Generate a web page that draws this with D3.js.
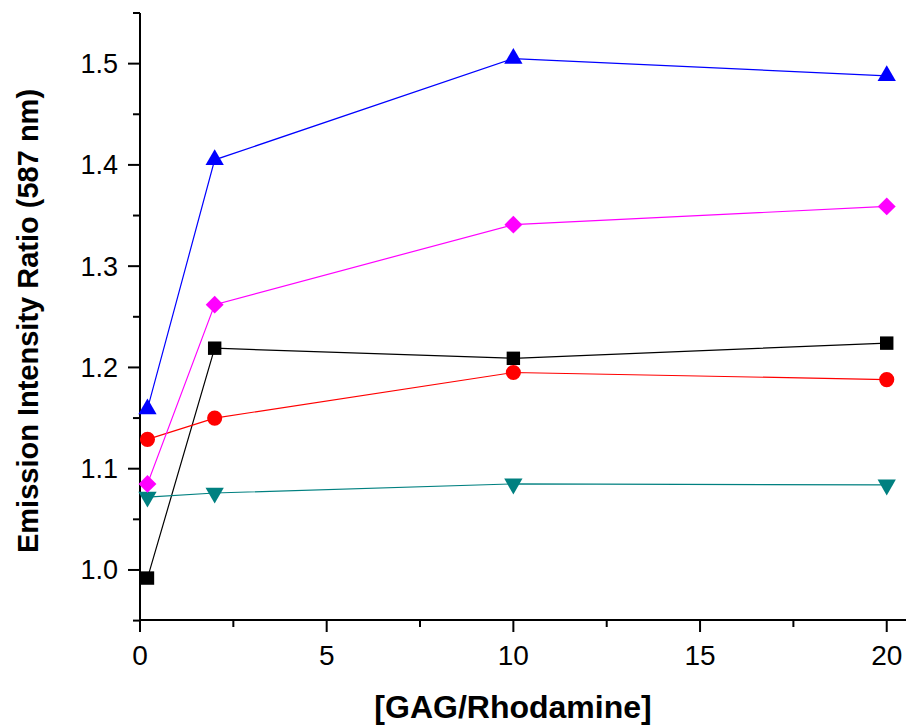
<!DOCTYPE html>
<html>
<head>
<meta charset="utf-8">
<script src="https://cdn.jsdelivr.net/npm/d3@7"></script>
<style>
  body { margin: 0; background: #fff; }
  svg { display: block; font-family: Arial, "Liberation Sans", sans-serif; }
</style>
</head>
<body>
<div id="viz"></div>
<script>
// data
var xValues = [0.2, 2, 10, 20];
var blackSquare  = [0.992, 1.219, 1.209, 1.224];
var redCircle    = [1.129, 1.150, 1.195, 1.188];
var blueTriangle = [1.159, 1.405, 1.505, 1.488];
var tealDown     = [1.072, 1.076, 1.085, 1.084];
var magentaDiamond = [1.085, 1.262, 1.341, 1.359];
var xTicks = [0, 5, 10, 15, 20];
var yTicks = [1.0, 1.1, 1.2, 1.3, 1.4, 1.5];

var series = [
  {values: blackSquare, color: '#000000', symbol: d3.symbolSquare, size: 180},
  {values: redCircle, color: '#ff0000', symbol: d3.symbolCircle, size: 180},
  {values: blueTriangle, color: '#0000ff', symbol: d3.symbolTriangle, size: 145},
  {values: tealDown, color: '#008080', symbol: d3.symbolTriangle, size: 145, flip: true},
  {values: magentaDiamond, color: '#ff00ff', symbol: d3.symbolSquare, size: 160, rotate: 45}
];

var W = 906, H = 726;
var svg = d3.select('#viz').append('svg')
  .attr('width', W)
  .attr('height', H);

var x = d3.scaleLinear().domain([0, 20.65]).range([140, 911]);
var y = d3.scaleLinear().domain([0.95, 1.55]).range([620.6, 13]);

// x axis
var xAxis = svg.append('g').attr('transform', 'translate(0,620)');
xAxis.append('line')
  .attr('x1', 140).attr('x2', W)
  .attr('stroke', '#000').attr('stroke-width', 2);
xAxis.selectAll('.minor')
  .data(d3.range(2.5, 20.5, 5))
  .enter().append('line')
  .attr('x1', function(d) { return x(d); })
  .attr('x2', function(d) { return x(d); })
  .attr('y2', 7)
  .attr('stroke', '#000').attr('stroke-width', 2);
xAxis.selectAll('.major')
  .data(xTicks)
  .enter().append('line')
  .attr('x1', function(d) { return x(d); })
  .attr('x2', function(d) { return x(d); })
  .attr('y2', 12)
  .attr('stroke', '#000').attr('stroke-width', 2);
xAxis.selectAll('text')
  .data(xTicks)
  .enter().append('text')
  .attr('x', function(d) { return x(d); })
  .attr('y', 45)
  .attr('text-anchor', 'middle')
  .style('font-size', '28px')
  .text(function(d) { return d; });

// y axis
var yAxis = svg.append('g').attr('transform', 'translate(140,0)');
yAxis.append('line')
  .attr('y1', y(1.55)).attr('y2', 621)
  .attr('stroke', '#000').attr('stroke-width', 2);
yAxis.selectAll('.minor')
  .data(d3.range(0.95, 1.56, 0.1))
  .enter().append('line')
  .attr('y1', function(d) { return y(d); })
  .attr('y2', function(d) { return y(d); })
  .attr('x2', -7)
  .attr('stroke', '#000').attr('stroke-width', 2);
yAxis.selectAll('.major')
  .data(yTicks)
  .enter().append('line')
  .attr('y1', function(d) { return y(d); })
  .attr('y2', function(d) { return y(d); })
  .attr('x2', -12)
  .attr('stroke', '#000').attr('stroke-width', 2);
yAxis.selectAll('text')
  .data(yTicks)
  .enter().append('text')
  .attr('x', -22)
  .attr('y', function(d) { return y(d) + 9.5; })
  .attr('text-anchor', 'end')
  .style('font-size', '27px')
  .text(function(d) { return d.toFixed(1); });

// axis titles
svg.append('text')
  .attr('x', 513).attr('y', 718)
  .attr('text-anchor', 'middle')
  .style('font-size', '32px').style('font-weight', 'bold')
  .text('[GAG/Rhodamine]');
svg.append('text')
  .attr('transform', 'translate(38,321) rotate(-90)')
  .attr('text-anchor', 'middle')
  .style('font-size', '29px').style('font-weight', 'bold')
  .text('Emission Intensity Ratio (587 nm)');

// lines + markers
var line = d3.line()
  .x(function(d, i) { return x(xValues[i]); })
  .y(function(d) { return y(d); });

series.forEach(function(s) {
  svg.append('path')
    .datum(s.values)
    .attr('d', line)
    .attr('fill', 'none')
    .attr('stroke', s.color)
    .attr('stroke-width', 1.2);
});

series.forEach(function(s) {
  svg.selectAll(null)
    .data(s.values)
    .enter().append('path')
    .attr('d', d3.symbol().type(s.symbol).size(s.size))
    .attr('transform', function(d, i) {
      var t = 'translate(' + x(xValues[i]) + ',' + y(d) + ')';
      if (s.flip) t += ' rotate(180)';
      if (s.rotate) t += ' rotate(' + s.rotate + ')';
      return t;
    })
    .attr('fill', s.color);
});
</script>
</body>
</html>
